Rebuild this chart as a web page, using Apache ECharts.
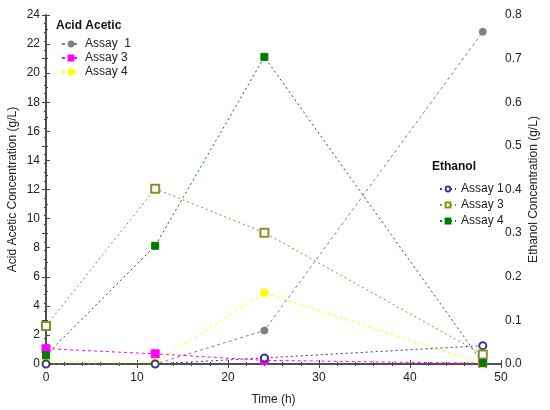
<!DOCTYPE html>
<html>
<head>
<meta charset="utf-8">
<script src="https://cdn.jsdelivr.net/npm/echarts@6/dist/echarts.min.js"></script>
<style>
  html, body { margin: 0; padding: 0; background: #fff; }
  #chart { width: 550px; height: 410px; }
</style>
</head>
<body>
<div id="chart"></div>
<script>
// time points (h)
const times = [0, 12, 24, 48];

// acetic acid, g/L (left axis)
const aaAssay1 = [0, 0, 2.3, 22.85];
const aaAssay3 = [1.05, 0.7, 0.25, 0.05];
const aaAssay4 = [0.2, 0.1, 4.9, 0];

// ethanol, g/L (right axis)
const etAssay1 = [0, 0, 0.014, 0.042];
const etAssay3 = [0.087, 0.402, 0.301, 0.022];
const etAssay4 = [0.02, 0.271, 0.704, 0.002];

const font = 'Liberation Sans, Arial, sans-serif';

// 把时间和数值拼成点
const pts = vals => times.map((t, i) => [t, vals[i]]);

const makeSeries = (name, vals, color, symbol, size, yIndex, dash) => ({
  name,
  type: 'line',
  yAxisIndex: yIndex,
  data: pts(vals),
  symbol,
  symbolSize: size,
  itemStyle: { color, borderColor: color, borderWidth: 1 },
  lineStyle: { color, width: 1, type: dash },
  emphasis: { disabled: true }
});

const series = [
  makeSeries('AA Assay  1', aaAssay1, '#808080', 'circle', 7, 0, [3, 3]),
  makeSeries('AA Assay 3', aaAssay3, '#ff00ff', 'rect', 8, 0, [3, 3]),
  makeSeries('AA Assay 4', aaAssay4, '#ffff00', 'circle', 8, 0, [3, 3]),
  makeSeries('ET Assay 1', etAssay1, '#3a3a8c', 'emptyCircle', 7, 1, [2, 3]),
  makeSeries('ET Assay 3', etAssay3, '#8f8f2a', 'emptyRect', 8, 1, [2, 3]),
  makeSeries('ET Assay 4', etAssay4, '#007a00', 'rect', 7, 1, [2, 3])
];

const axisLine = { show: true, lineStyle: { color: '#444', width: 1.5 } };
const tick = { show: true, inside: true, length: 4, lineStyle: { color: '#444' } };
const minor = (n) => ({ show: true, splitNumber: n, length: 2, lineStyle: { color: '#444' } });
const label = { color: '#222', fontFamily: font, fontSize: 12 };
const legendBase = {
  orient: 'vertical',
  itemHeight: 6,
  selectedMode: false,
  textStyle: { color: '#222', fontFamily: font, fontSize: 12 },
  formatter: name => name.slice(3)
};

const chart = echarts.init(document.getElementById('chart'));
chart.setOption({
  animation: false,
  backgroundColor: '#fff',
  grid: { left: 46, right: 49, top: 15, bottom: 46, outerBoundsMode: 'none' },
  graphic: [
    { type: 'text', left: 56, top: 20, style: { text: 'Acid Acetic', font: 'bold 12px ' + font, fill: '#111' } },
    { type: 'text', left: 432, top: 161, style: { text: 'Ethanol', font: 'bold 12px ' + font, fill: '#111' } }
  ],
  legend: [
    Object.assign({}, legendBase, {
      left: 56, top: 33, itemGap: 2, itemWidth: 18,
      data: ['AA Assay  1', 'AA Assay 3', 'AA Assay 4']
    }),
    Object.assign({}, legendBase, {
      left: 434, top: 178, itemGap: 4, itemWidth: 16,
      data: ['ET Assay 1', 'ET Assay 3', 'ET Assay 4']
    })
  ],
  xAxis: [
    {
      type: 'value', min: 0, max: 50, interval: 10,
      name: 'Time (h)', nameLocation: 'middle', nameGap: 30,
      nameTextStyle: { color: '#222', fontFamily: font, fontSize: 12 },
      axisLine, axisTick: tick, minorTick: minor(5),
      axisLabel: Object.assign({ margin: 8 }, label),
      splitLine: { show: false }
    },
    {
      type: 'value', position: 'top', min: 0, max: 50, interval: 10,
      axisLine, axisTick: tick, minorTick: minor(5),
      axisLabel: { show: false }, splitLine: { show: false }
    }
  ],
  yAxis: [
    {
      type: 'value', min: 0, max: 24, interval: 2,
      name: 'Acid Acetic Concentration (g/L)', nameLocation: 'middle', nameGap: 27,
      nameMoveOverlap: false,
      nameTextStyle: { color: '#222', fontFamily: font, fontSize: 12 },
      axisLine, axisTick: tick, minorTick: minor(2),
      axisLabel: Object.assign({ margin: 6 }, label),
      splitLine: { show: false }
    },
    {
      type: 'value', position: 'right', min: 0, max: 0.8, interval: 0.1,
      name: 'Ethanol Concentration (g/L)', nameLocation: 'middle', nameGap: 27, nameRotate: 90,
      nameMoveOverlap: false,
      nameTextStyle: { color: '#222', fontFamily: font, fontSize: 12 },
      axisLine, axisTick: tick, minorTick: minor(5),
      axisLabel: Object.assign({ margin: 4, formatter: v => v.toFixed(1) }, label),
      splitLine: { show: false }
    }
  ],
  series
});
</script>
</body>
</html>
